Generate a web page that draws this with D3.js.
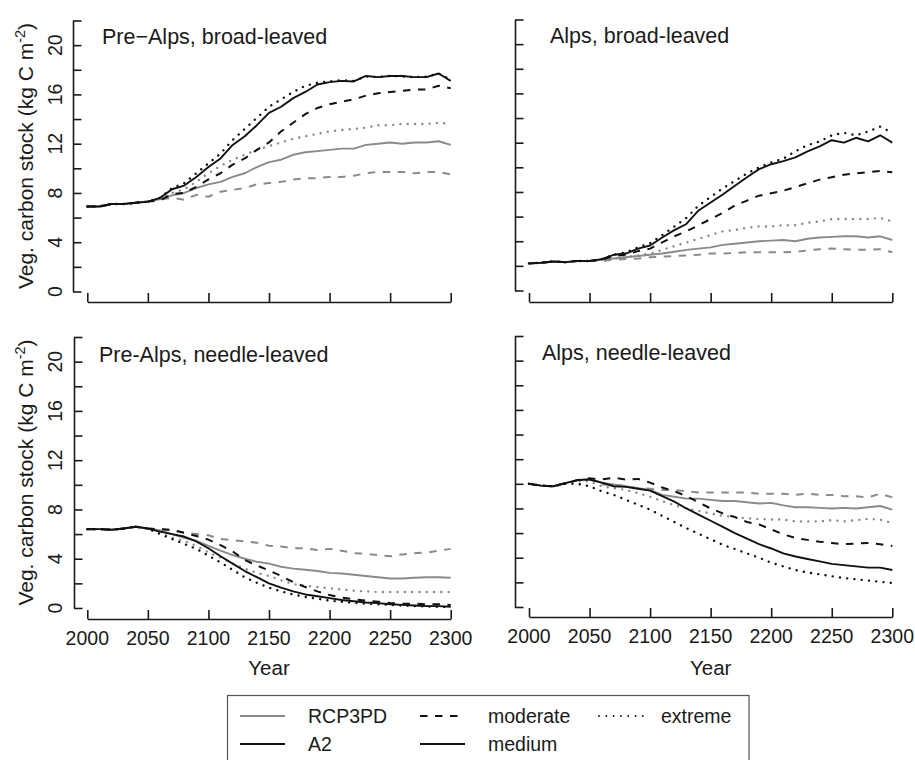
<!DOCTYPE html>
<html>
<head>
<meta charset="utf-8">
<script src="https://cdn.jsdelivr.net/npm/d3@7"></script>
<style>
  body { margin: 0; background: #fff; }
  svg { font-family: "Liberation Sans", Arial, Helvetica, sans-serif; }
  .axis path, .axis line { stroke: #1a1a1a; stroke-width: 1.6px; }
  .tick-label, .axis-title, .panel-title, .legend-text { fill: #1a1a1a; }
</style>
</head>
<body>
<div id="chart"></div>
<script>
    var years = [2000, 2010, 2020, 2030, 2040, 2050, 2060, 2070, 2080, 2090, 2100,
                 2110, 2120, 2130, 2140, 2150, 2160, 2170, 2180, 2190, 2200,
                 2210, 2220, 2230, 2240, 2250, 2260, 2270, 2280, 2290, 2300];

    var yTicks = [0, 2, 4, 6, 8, 10, 12, 14, 16, 18, 20, 22];
    var yTickLabels = [0, 4, 8, 12, 16, 20];
    var xTicks = [2000, 2050, 2100, 2150, 2200, 2250, 2300];

    // Pre-Alps, broad-leaved
    var preAlpsBroad_rcp_moderate = [6.9, 6.9, 7.1, 7.1, 7.2, 7.3, 7.5, 7.6, 7.45, 7.85, 7.7, 8.1, 8.25, 8.4, 8.7, 8.8, 8.9, 9.1, 9.2, 9.2, 9.3, 9.3, 9.4, 9.6, 9.7, 9.7, 9.7, 9.6, 9.7, 9.7, 9.5];
    var preAlpsBroad_rcp_medium   = [6.9, 6.9, 7.1, 7.1, 7.2, 7.3, 7.5, 7.8, 8.0, 8.4, 8.7, 8.9, 9.3, 9.6, 10.1, 10.5, 10.7, 11.1, 11.3, 11.4, 11.5, 11.6, 11.6, 11.9, 12.0, 12.1, 12.0, 12.1, 12.1, 12.2, 11.9];
    var preAlpsBroad_rcp_extreme  = [6.9, 6.9, 7.1, 7.1, 7.2, 7.3, 7.5, 8.0, 8.3, 8.9, 9.6, 10.2, 10.7, 11.1, 11.5, 11.8, 12.1, 12.4, 12.6, 12.8, 13.0, 13.1, 13.2, 13.3, 13.5, 13.5, 13.6, 13.6, 13.6, 13.7, 13.6];
    var preAlpsBroad_a2_moderate  = [6.9, 6.9, 7.1, 7.1, 7.2, 7.3, 7.4, 7.9, 8.0, 8.5, 9.1, 9.6, 10.3, 10.8, 11.5, 12.1, 13.0, 13.7, 14.4, 14.9, 15.2, 15.4, 15.6, 15.9, 16.1, 16.2, 16.3, 16.4, 16.4, 16.7, 16.5];
    var preAlpsBroad_a2_medium    = [6.9, 6.9, 7.1, 7.1, 7.2, 7.3, 7.6, 8.3, 8.6, 9.3, 10.1, 10.8, 11.9, 12.6, 13.5, 14.5, 15.0, 15.7, 16.2, 16.8, 17.0, 17.1, 17.05, 17.5, 17.4, 17.5, 17.5, 17.4, 17.4, 17.7, 17.1];
    var preAlpsBroad_a2_extreme   = [6.9, 6.9, 7.1, 7.1, 7.2, 7.3, 7.6, 8.4, 8.8, 9.6, 10.4, 11.2, 12.3, 13.2, 14.1, 15.0, 15.6, 16.2, 16.7, 16.95, 17.05, 17.15, 17.1, 17.45, 17.4, 17.5, 17.45, 17.4, 17.45, 17.7, 17.2];

    // Alps, broad-leaved
    var alpsBroad_rcp_moderate = [2.2, 2.25, 2.35, 2.3, 2.4, 2.4, 2.4, 2.5, 2.55, 2.6, 2.7, 2.75, 2.8, 2.85, 2.9, 3.0, 3.0, 3.05, 3.1, 3.1, 3.1, 3.1, 3.15, 3.25, 3.35, 3.4, 3.35, 3.3, 3.3, 3.35, 3.1];
    var alpsBroad_rcp_medium   = [2.2, 2.25, 2.35, 2.3, 2.4, 2.4, 2.5, 2.6, 2.7, 2.8, 2.9, 3.0, 3.15, 3.3, 3.4, 3.5, 3.7, 3.8, 3.9, 4.0, 4.05, 4.1, 4.0, 4.2, 4.3, 4.35, 4.4, 4.4, 4.3, 4.4, 4.1];
    var alpsBroad_rcp_extreme  = [2.2, 2.25, 2.35, 2.3, 2.4, 2.4, 2.5, 2.6, 2.7, 2.85, 3.0, 3.3, 3.6, 3.9, 4.2, 4.5, 4.8, 4.9, 5.1, 5.2, 5.2, 5.3, 5.3, 5.5, 5.6, 5.8, 5.8, 5.8, 5.8, 5.9, 5.6];
    var alpsBroad_a2_moderate  = [2.2, 2.25, 2.35, 2.3, 2.4, 2.4, 2.5, 2.8, 2.9, 3.2, 3.4, 3.9, 4.4, 4.8, 5.3, 5.8, 6.3, 6.9, 7.3, 7.7, 7.9, 8.1, 8.4, 8.7, 9.0, 9.2, 9.4, 9.5, 9.6, 9.7, 9.6];
    var alpsBroad_a2_medium    = [2.2, 2.25, 2.35, 2.3, 2.4, 2.4, 2.55, 2.9, 3.0, 3.4, 3.65, 4.3, 4.9, 5.4, 6.5, 7.15, 7.8, 8.5, 9.2, 9.85, 10.25, 10.5, 10.8, 11.3, 11.7, 12.2, 12.0, 12.4, 12.1, 12.6, 12.0];
    var alpsBroad_a2_extreme   = [2.2, 2.25, 2.35, 2.3, 2.4, 2.4, 2.55, 2.9, 3.1, 3.5, 3.85, 4.5, 5.2, 5.9, 6.9, 7.6, 8.3, 8.9, 9.5, 10.0, 10.4, 10.7, 11.3, 11.8, 12.1, 12.6, 12.8, 12.6, 12.9, 13.3, 12.8];

    // Pre-Alps, needle-leaved
    var preAlpsNeedle_rcp_moderate = [6.4, 6.4, 6.35, 6.45, 6.6, 6.45, 6.4, 6.3, 6.1, 6.0, 5.9, 5.6, 5.5, 5.4, 5.3, 5.05, 5.0, 4.85, 4.85, 4.7, 4.8, 4.65, 4.45, 4.4, 4.3, 4.2, 4.35, 4.45, 4.5, 4.65, 4.8];
    var preAlpsNeedle_rcp_medium   = [6.4, 6.4, 6.35, 6.45, 6.6, 6.45, 6.3, 6.0, 5.7, 5.45, 5.05, 4.65, 4.3, 4.0, 3.75, 3.6, 3.35, 3.2, 3.1, 3.0, 2.85, 2.8, 2.7, 2.6, 2.5, 2.4, 2.4, 2.45, 2.5, 2.5, 2.45];
    var preAlpsNeedle_rcp_extreme  = [6.4, 6.4, 6.35, 6.45, 6.6, 6.45, 6.1, 5.7, 5.45, 5.05, 4.5, 4.1, 3.6, 3.2, 2.85, 2.6, 2.25, 1.95, 1.8, 1.7, 1.6, 1.5, 1.4, 1.35, 1.3, 1.3, 1.3, 1.3, 1.3, 1.3, 1.3];
    var preAlpsNeedle_a2_moderate  = [6.4, 6.4, 6.35, 6.45, 6.6, 6.45, 6.4, 6.35, 6.1, 5.85, 5.55, 5.1, 4.6, 3.9, 3.45, 3.05, 2.6, 2.1, 1.7, 1.35, 1.05, 0.85, 0.7, 0.6, 0.5, 0.4, 0.35, 0.35, 0.3, 0.3, 0.25];
    var preAlpsNeedle_a2_medium    = [6.4, 6.4, 6.35, 6.45, 6.6, 6.45, 6.2, 6.0, 5.8, 5.4, 4.85, 4.2, 3.6, 3.0, 2.5, 2.0, 1.65, 1.35, 1.1, 0.95, 0.8, 0.65, 0.55, 0.45, 0.4, 0.3, 0.25, 0.2, 0.15, 0.15, 0.1];
    var preAlpsNeedle_a2_extreme   = [6.4, 6.4, 6.35, 6.45, 6.6, 6.45, 6.0, 5.6, 5.2, 4.8, 4.25, 3.7, 3.1, 2.5, 2.05, 1.65, 1.35, 1.1, 0.9, 0.75, 0.6, 0.5, 0.42, 0.35, 0.3, 0.25, 0.2, 0.15, 0.12, 0.1, 0.08];

    // Alps, needle-leaved
    var alpsNeedle_rcp_moderate = [10.0, 9.85, 9.8, 10.05, 10.3, 10.4, 9.95, 9.95, 9.8, 9.65, 9.6, 9.5, 9.5, 9.4, 9.3, 9.3, 9.3, 9.3, 9.3, 9.2, 9.2, 9.2, 9.1, 9.2, 9.1, 9.1, 9.0, 9.0, 8.9, 9.2, 8.9];
    var alpsNeedle_rcp_medium   = [10.0, 9.85, 9.8, 10.05, 10.3, 10.4, 10.1, 9.95, 9.8, 9.65, 9.5, 9.1, 8.95, 8.8, 8.8, 8.7, 8.6, 8.6, 8.5, 8.4, 8.45, 8.25, 8.1, 8.1, 8.05, 8.0, 8.05, 8.0, 8.1, 8.2, 7.9];
    var alpsNeedle_rcp_extreme  = [10.0, 9.85, 9.8, 10.05, 10.2, 10.2, 9.8, 9.65, 9.5, 9.25, 8.95, 8.6, 8.25, 8.0, 7.8, 7.6, 7.4, 7.3, 7.2, 7.15, 7.1, 7.1, 6.95, 6.95, 6.95, 7.05, 6.95, 7.05, 7.15, 7.1, 6.8];
    var alpsNeedle_a2_moderate  = [10.0, 9.85, 9.8, 10.05, 10.3, 10.45, 10.35, 10.5, 10.35, 10.4, 10.1, 9.7, 9.4, 9.0, 8.5, 8.0, 7.6, 7.3, 6.9, 6.7, 6.3, 5.9, 5.6, 5.45, 5.3, 5.2, 5.1, 5.15, 5.2, 5.1, 4.95];
    var alpsNeedle_a2_medium    = [10.0, 9.85, 9.8, 10.05, 10.3, 10.35, 10.1, 9.8, 9.75, 9.6, 9.45, 9.0, 8.55, 8.0, 7.5, 7.0, 6.5, 6.0, 5.55, 5.1, 4.75, 4.35, 4.1, 3.9, 3.7, 3.5, 3.4, 3.3, 3.2, 3.2, 3.0];
    var alpsNeedle_a2_extreme   = [10.0, 9.85, 9.8, 10.0, 10.0, 9.8, 9.4, 9.1, 8.7, 8.3, 7.9, 7.4, 6.9, 6.4, 5.95, 5.5, 5.05, 4.7, 4.35, 4.0, 3.6, 3.3, 3.0, 2.8, 2.65, 2.5, 2.35, 2.25, 2.15, 2.05, 1.95];

    var panelTitles = ["Pre\u2212Alps, broad-leaved", "Alps, broad-leaved", "Pre-Alps, needle-leaved", "Alps, needle-leaved"];

    var legendLabels = ["RCP3PD", "moderate", "extreme", "A2", "medium"];

    var gray = "#8a8a8a", black = "#111";
    // stroke styles per scenario type
    var styles = {
        moderate: {dash: "7.5,7.5", cap: "butt", w: 2.0},
        medium:   {dash: null, cap: "butt", w: 1.9},
        extreme:  {dash: "0.01,7.3", cap: "round", w: 2.4}
    };

    var width = 915, height = 760;

    // layout of the four panels (pixel frame)
    var panels = [
        {title: panelTitles[0], x0: 87.3, x1: 450.7, axisX: 73, y0: 291.5, yTop: 20.5, axisY: 302, tx: 102, ty: 44, yLab: true, xLab: false,
         series: [preAlpsBroad_rcp_moderate, preAlpsBroad_rcp_medium, preAlpsBroad_rcp_extreme, preAlpsBroad_a2_moderate, preAlpsBroad_a2_medium, preAlpsBroad_a2_extreme]},
        {title: panelTitles[1], x0: 529, x1: 892.3, axisX: 515, y0: 290.5, yTop: 19.5, axisY: 302, tx: 550, ty: 43, yLab: false, xLab: false,
         series: [alpsBroad_rcp_moderate, alpsBroad_rcp_medium, alpsBroad_rcp_extreme, alpsBroad_a2_moderate, alpsBroad_a2_medium, alpsBroad_a2_extreme]},
        {title: panelTitles[2], x0: 87.3, x1: 450.7, axisX: 74, y0: 608, yTop: 337, axisY: 619, tx: 99, ty: 362, yLab: true, xLab: true,
         series: [preAlpsNeedle_rcp_moderate, preAlpsNeedle_rcp_medium, preAlpsNeedle_rcp_extreme, preAlpsNeedle_a2_moderate, preAlpsNeedle_a2_medium, preAlpsNeedle_a2_extreme]},
        {title: panelTitles[3], x0: 529, x1: 892.3, axisX: 515, y0: 607, yTop: 336, axisY: 617, tx: 542, ty: 360, yLab: false, xLab: true,
         series: [alpsNeedle_rcp_moderate, alpsNeedle_rcp_medium, alpsNeedle_rcp_extreme, alpsNeedle_a2_moderate, alpsNeedle_a2_medium, alpsNeedle_a2_extreme]}
    ];

    var seriesKeys = [
        {scen: "rcp", type: "moderate"}, {scen: "rcp", type: "medium"}, {scen: "rcp", type: "extreme"},
        {scen: "a2", type: "moderate"}, {scen: "a2", type: "medium"}, {scen: "a2", type: "extreme"}
    ];

    var svg = d3.select("#chart").append("svg")
        .attr("width", width)
        .attr("height", height);

    panels.forEach(function(p) {
        var x = d3.scaleLinear().domain([2000, 2300]).range([p.x0, p.x1]);
        var y = d3.scaleLinear().domain([0, 22]).range([p.y0, p.yTop]);
        var g = svg.append("g").classed("panel", true);

        // y axis, ticks pointing inward
        g.append("g")
            .classed("axis", true)
            .attr("transform", "translate(" + p.axisX + ",0)")
            .call(d3.axisLeft(y).tickValues(yTicks).tickSize(-8.5).tickSizeOuter(0).tickFormat(""));

        // x axis, ticks pointing inward
        g.append("g")
            .classed("axis", true)
            .attr("transform", "translate(0," + p.axisY + ")")
            .call(d3.axisBottom(x).tickValues(xTicks).tickSize(-9).tickSizeOuter(0).tickFormat(""));

        if (p.yLab) {
            g.selectAll(".ylab")
                .data(yTickLabels)
                .enter()
                .append("text")
                    .classed("tick-label", true)
                    .attr("transform", function(d) { return "translate(62," + y(d) + ") rotate(-90)"; })
                    .attr("text-anchor", "middle")
                    .style("font-size", "19.5px")
                    .text(function(d) { return d; });

            var cy = (p.y0 + p.yTop) / 2;
            var title = g.append("text")
                .classed("axis-title", true)
                .attr("transform", "translate(33," + cy + ") rotate(-90)")
                .attr("text-anchor", "middle")
                .style("font-size", "21px");
            title.append("tspan").text("Veg. carbon stock (kg C m");
            title.append("tspan").attr("dy", -8).style("font-size", "14.5px").text("-2");
            title.append("tspan").attr("dy", 8).text(")");
        }

        if (p.xLab) {
            g.selectAll(".xlab")
                .data(xTicks)
                .enter()
                .append("text")
                    .classed("tick-label", true)
                    .attr("x", function(d) { return x(d); })
                    .attr("y", p.axisY + 26)
                    .attr("text-anchor", "middle")
                    .style("font-size", "19.5px")
                    .text(function(d) { return d; });

            g.append("text")
                .classed("axis-title", true)
                .attr("x", (p.x0 + p.x1) / 2)
                .attr("y", 675)
                .attr("text-anchor", "middle")
                .style("font-size", "20.5px")
                .text("Year");
        }

        g.append("text")
            .classed("panel-title", true)
            .attr("x", p.tx)
            .attr("y", p.ty)
            .style("font-size", "21.5px")
            .text(p.title);

        var line = d3.line()
            .x(function(d, i) { return x(years[i]); })
            .y(function(d) { return y(d); });

        // gray (RCP3PD) first, black (A2) on top
        p.series.forEach(function(vals, i) {
            var key = seriesKeys[i];
            var st = styles[key.type];
            g.append("path")
                .datum(vals)
                .attr("d", line)
                .attr("fill", "none")
                .attr("stroke", key.scen == "rcp" ? gray : black)
                .attr("stroke-width", st.w)
                .attr("stroke-dasharray", st.dash)
                .attr("stroke-linecap", st.cap)
                .attr("stroke-linejoin", "round");
        });
    });

    // legend
    var legend = svg.append("g").classed("legend", true);
    legend.append("rect")
        .attr("x", 227.5)
        .attr("y", 695.5)
        .attr("width", 521.5)
        .attr("height", 80)
        .attr("fill", "none")
        .attr("stroke", "#555")
        .attr("stroke-width", 1.2);

    var legendItems = [
        {label: legendLabels[0], color: gray, style: styles.medium, lx: 240, tx: 308, row: 0},
        {label: legendLabels[1], color: black, style: styles.moderate, lx: 420, tx: 488, row: 0},
        {label: legendLabels[2], color: black, style: styles.extreme, lx: 599, tx: 661, row: 0},
        {label: legendLabels[3], color: black, style: styles.medium, lx: 240, tx: 308, row: 1},
        {label: legendLabels[4], color: black, style: styles.medium, lx: 420, tx: 488, row: 1}
    ];
    var rowY = [716, 744];

    var items = legend.selectAll(".item")
        .data(legendItems)
        .enter()
        .append("g")
            .classed("item", true);

    items.append("line")
        .attr("x1", function(d) { return d.lx; })
        .attr("x2", function(d) { return d.lx + 45; })
        .attr("y1", function(d) { return rowY[d.row]; })
        .attr("y2", function(d) { return rowY[d.row]; })
        .attr("stroke", function(d) { return d.color; })
        .attr("stroke-width", function(d) { return d.style == styles.extreme ? 1.8 : 1.9; })
        .attr("stroke-linecap", function(d) { return d.style.cap; })
        .attr("stroke-dasharray", function(d) { return d.style.dash; });

    items.append("text")
        .classed("legend-text", true)
        .attr("x", function(d) { return d.tx; })
        .attr("y", function(d) { return rowY[d.row]; })
        .attr("dy", "0.35em")
        .style("font-size", "19.5px")
        .text(function(d) { return d.label; });
</script>
</body>
</html>
